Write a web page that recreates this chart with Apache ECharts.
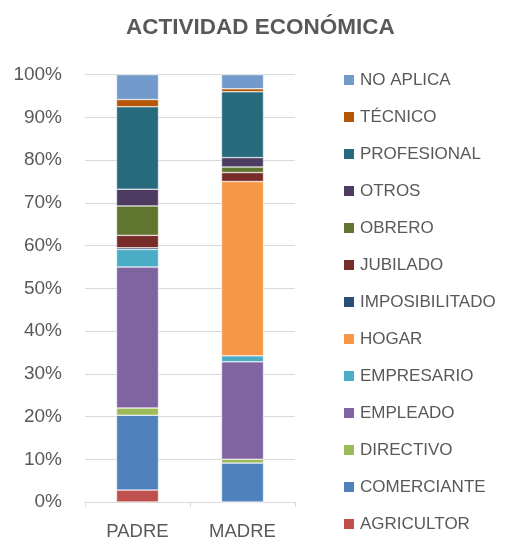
<!DOCTYPE html>
<html>
<head>
<meta charset="utf-8">
<script src="https://cdn.jsdelivr.net/npm/echarts@6/dist/echarts.min.js"></script>
<style>
  html, body { margin: 0; padding: 0; background: #fff; }
  #chart { width: 506px; height: 544px; }
</style>
</head>
<body>
<div id="chart"></div>
<script>
// categorias y valores (%), de abajo hacia arriba
var categories = ['PADRE', 'MADRE'];
var seriesNames = ['AGRICULTOR', 'COMERCIANTE', 'DIRECTIVO', 'EMPLEADO', 'EMPRESARIO', 'HOGAR',
    'IMPOSIBILITADO', 'JUBILADO', 'OBRERO', 'OTROS', 'PROFESIONAL', 'TÉCNICO', 'NO APLICA'];
var agricultor = [2.8, 0];
var comerciante = [17.5, 9.1];
var directivo = [1.7, 0.9];
var empleado = [33.0, 22.8];
var empresario = [4.1, 1.4];
var hogar = [0, 40.8];
var imposibilitado = [0.4, 0];
var jubilado = [2.9, 2.1];
var obrero = [6.9, 1.3];
var otros = [3.9, 2.2];
var profesional = [19.3, 15.4];
var tecnico = [1.7, 0.7];
var noAplica = [5.8, 3.3];
var yTicks = ['0%', '10%', '20%', '30%', '40%', '50%', '60%', '70%', '80%', '90%', '100%'];

var values = [agricultor, comerciante, directivo, empleado, empresario, hogar,
    imposibilitado, jubilado, obrero, otros, profesional, tecnico, noAplica];
var colors = ['#C0504D', '#4F81BD', '#9BBB59', '#8064A2', '#4BACC6', '#F79646',
    '#2C4D75', '#772C2A', '#5F7530', '#4D3B62', '#276A7C', '#B65708', '#729ACA'];

var font = '"Liberation Sans", Arial, sans-serif';
var myChart = echarts.init(document.getElementById('chart'));

var series = [];
for (var i = 0; i < seriesNames.length; i++) {
    series.push({
        name: seriesNames[i],
        type: 'bar',
        stack: 'total',
        barWidth: 42,
        data: values[i],
        itemStyle: { color: colors[i], borderColor: '#fff', borderWidth: 0.5 }
    });
}

var option = {
    animation: false,
    title: {
        text: 'ACTIVIDAD ECONÓMICA',
        left: 126,
        top: 16,
        padding: 0,
        textStyle: { fontFamily: font, fontSize: 22.5, fontWeight: 'bold', color: '#595959' }
    },
    legend: {
        orient: 'vertical',
        left: 342,
        top: 71,
        padding: 0,
        itemWidth: 12,
        itemHeight: 12,
        itemGap: 19,
        icon: 'rect',
        data: seriesNames.slice().reverse(),
        textStyle: { fontFamily: font, fontSize: 17, color: '#595959', lineHeight: 18 }
    },
    grid: { left: 85, right: 211, top: 74.7, bottom: 42 },
    xAxis: {
        type: 'category',
        data: categories,
        axisLine: { lineStyle: { color: '#d9d9d9', width: 1 } },
        axisTick: { show: true, length: 5, lineStyle: { color: '#d9d9d9' } },
        axisLabel: { fontFamily: font, fontSize: 18.5, color: '#595959', margin: 20 }
    },
    yAxis: {
        type: 'value',
        min: 0,
        max: 100,
        interval: 10,
        axisLine: { show: false },
        axisTick: { show: false },
        splitLine: { lineStyle: { color: '#d9d9d9', width: 1 } },
        axisLabel: {
            fontFamily: font, fontSize: 19, color: '#595959', margin: 23,
            formatter: function (v) { return yTicks[Math.round(v / 10)]; }
        }
    },
    series: series
};

myChart.setOption(option);
</script>
</body>
</html>
